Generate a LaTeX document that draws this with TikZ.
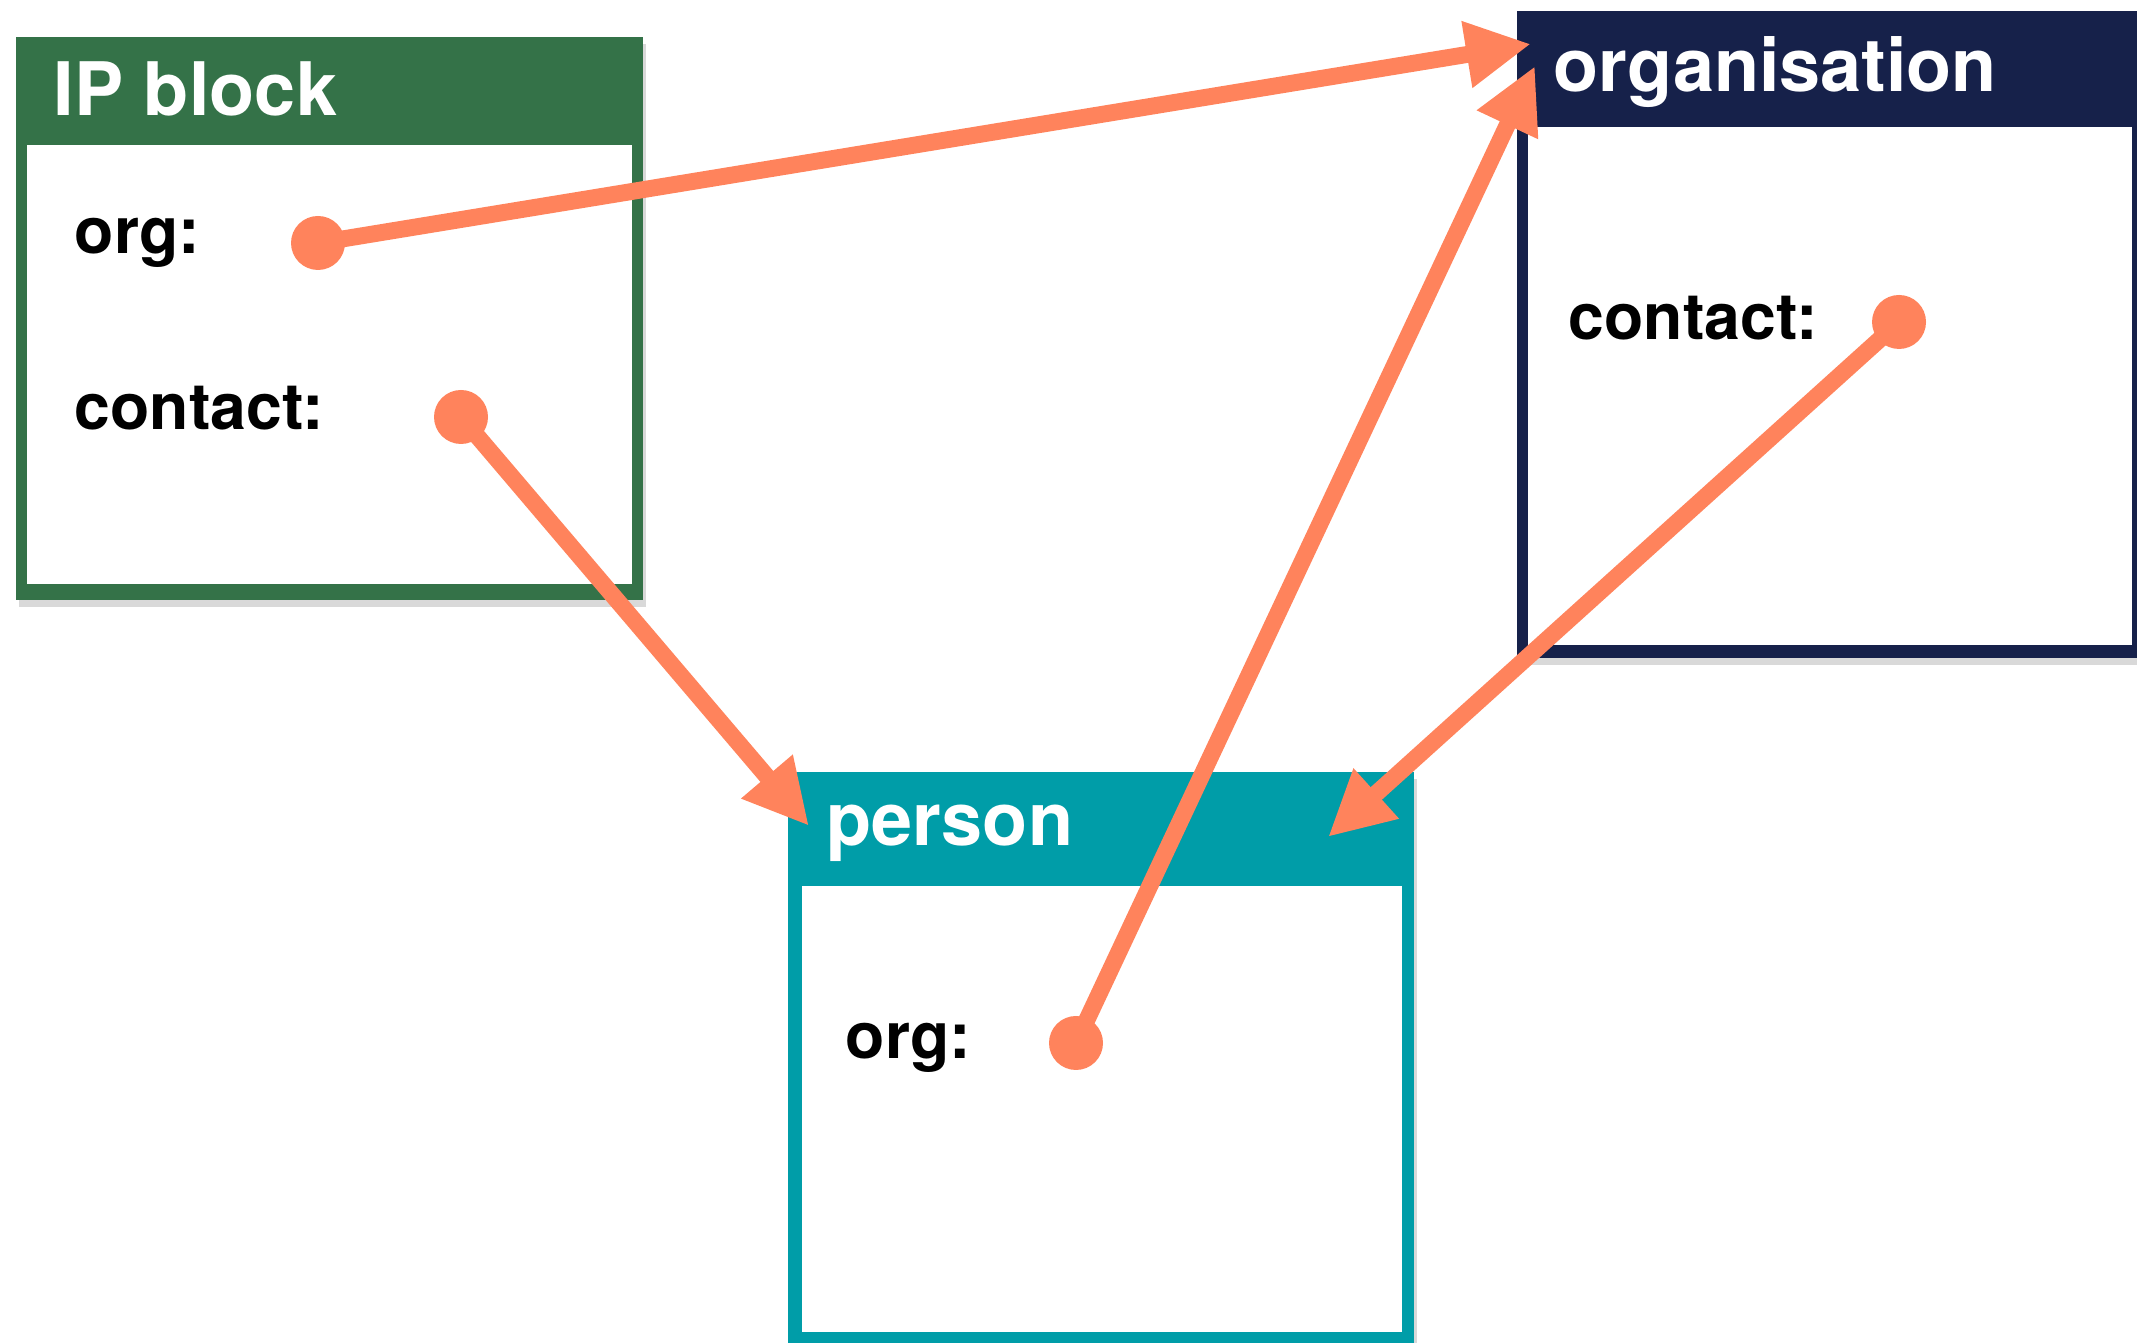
\documentclass[tikz,border=0pt]{standalone}
\usepackage{fontspec}
\setmainfont{TeX Gyre Heros}
\usetikzlibrary{arrows.meta, shadows}
\definecolor{blockgreen}{RGB}{52,114,72}
\definecolor{orgnavy}{RGB}{22,33,74}
\definecolor{personteal}{RGB}{0,157,168}
\definecolor{linkorange}{RGB}{255,131,92}

\tikzset{
  title/.style={anchor=base west, inner sep=0pt, text=white, font=\fontsize{21}{25}\selectfont\bfseries},
  field/.style={anchor=base west, inner sep=0pt, font=\fontsize{18.3}{22}\selectfont\bfseries},
  dot/.style={circle, fill=linkorange, minimum size=5.4mm, inner sep=0pt},
  link/.style={draw=linkorange, line width=4.8pt, -{Triangle[length=6.5mm, width=6.3mm]}},
  boxshadow/.style={drop shadow={shadow xshift=0.3mm, shadow yshift=-0.7mm, opacity=0.3}}
}

\begin{document}
\begin{tikzpicture}
    \useasboundingbox (0,0) rectangle (21.37,13.43);

    % IP block
    \fill[blockgreen, boxshadow] (0.16,7.43) rectangle (6.43,13.06);
    \fill[white] (0.27,7.59) rectangle (6.32,11.98);
    \node[title] (ipTitle) at (0.53,12.27) {IP block};
    \node[field] (ipOrg) at (0.74,10.89) {org:};
    \node[field] (ipContact) at (0.74,9.13) {contact:};

    % organisation
    \fill[orgnavy, boxshadow] (15.17,6.85) rectangle (21.45,13.32);
    \fill[white] (15.28,6.98) rectangle (21.32,12.16);
    \node[title] (orgTitle) at (15.53,12.51) {organisation};
    \node[field] (orgContact) at (15.68,10.03) {contact:};

    % person
    \fill[personteal, boxshadow] (7.88,-0.12) rectangle (14.14,5.71);
    \fill[white] (8.02,0.11) rectangle (14.02,4.57);
    \node[title] (personTitle) at (8.26,4.97) {person};
    \node[field] (personOrg) at (8.45,2.84) {org:};

    % arrow targets
    \coordinate (toOrgA) at (15.31,12.99);
    \coordinate (toOrgB) at (15.35,12.77);
    \coordinate (toPersonA) at (8.09,5.17);
    \coordinate (toPersonB) at (13.28,5.06);

    % links
    \draw[link] (3.18,11.00) node[dot] (ipOrgDot) {} (ipOrgDot.center) -- (toOrgA);
    \draw[link] (4.61,9.26) node[dot] (ipContactDot) {} (ipContactDot.center) -- (toPersonA);
    \draw[link] (18.99,10.21) node[dot] (orgContactDot) {} (orgContactDot.center) -- (toPersonB);
    \draw[link] (10.76,3.00) node[dot] (personOrgDot) {} (personOrgDot.center) -- (toOrgB);

\end{tikzpicture}
\end{document}
